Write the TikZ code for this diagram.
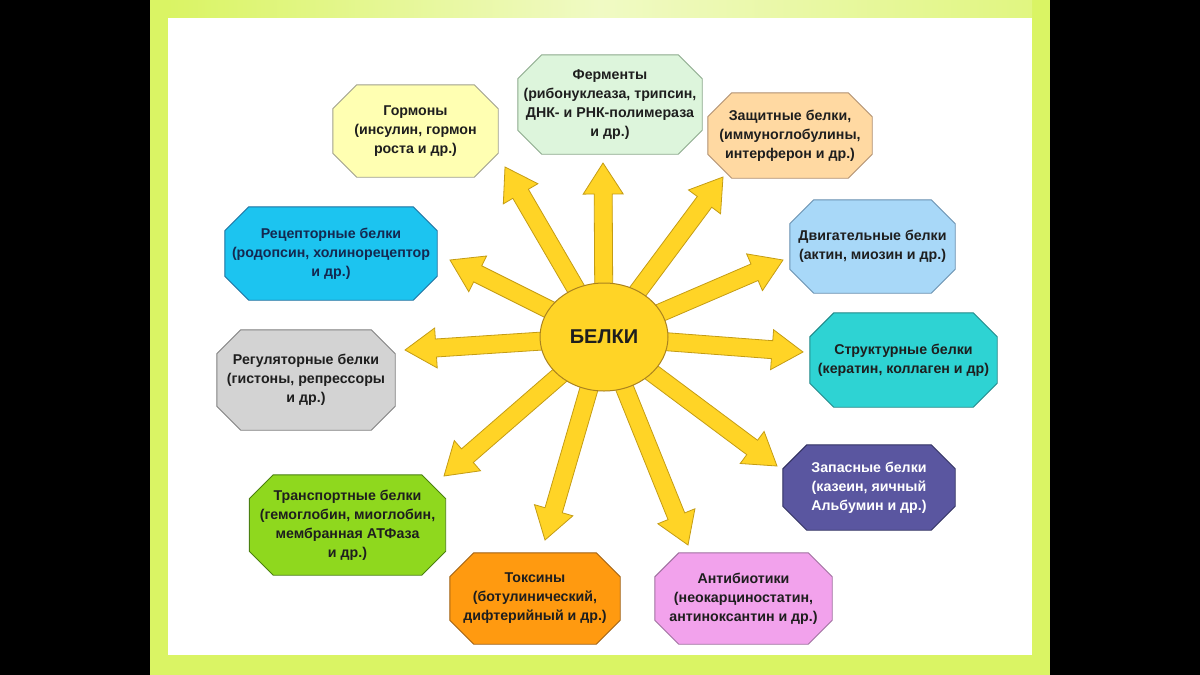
\documentclass[tikz,border=0pt]{standalone}
\usepackage{fontspec}
\setmainfont{Liberation Sans}
\usetikzlibrary{calc,shapes.geometric}
\pgfdeclarelayer{back}
\pgfdeclarelayer{bg}
\pgfsetlayers{back,bg,main}
\definecolor{rayfill}{RGB}{255,212,38}
\definecolor{rayline}{RGB}{196,156,20}
\definecolor{sunline}{RGB}{170,130,30}
\definecolor{lime}{RGB}{218,244,100}
\definecolor{palelime}{RGB}{240,250,196}
\definecolor{txtcol}{RGB}{30,30,30}
\definecolor{cHorm}{RGB}{255,255,178}\definecolor{dHorm}{RGB}{160,160,140}
\definecolor{cFerm}{RGB}{221,245,220}\definecolor{dFerm}{RGB}{140,170,140}
\definecolor{cZas}{RGB}{255,217,162}\definecolor{dZas}{RGB}{176,144,112}
\definecolor{cRec}{RGB}{28,196,240}\definecolor{dRec}{RGB}{26,112,160}
\definecolor{cDvi}{RGB}{168,216,248}\definecolor{dDvi}{RGB}{104,144,176}
\definecolor{cReg}{RGB}{211,211,211}\definecolor{dReg}{RGB}{128,128,128}
\definecolor{cStr}{RGB}{46,211,211}\definecolor{dStr}{RGB}{32,136,136}
\definecolor{cZap}{RGB}{90,86,160}\definecolor{dZap}{RGB}{48,48,96}
\definecolor{cTra}{RGB}{143,216,30}\definecolor{dTra}{RGB}{74,128,16}
\definecolor{cTox}{RGB}{255,154,16}\definecolor{dTox}{RGB}{160,96,16}
\definecolor{cAnt}{RGB}{242,162,236}\definecolor{dAnt}{RGB}{160,112,160}
\newcommand\octo[3]{%
  \filldraw[fill=#2, draw=#3, line width=0.9pt]
  ([xshift=24pt]#1.north west) -- ([xshift=-24pt]#1.north east) --
  ([yshift=-24pt]#1.north east) -- ([yshift=24pt]#1.south east) --
  ([xshift=-24pt]#1.south east) -- ([xshift=24pt]#1.south west) --
  ([yshift=24pt]#1.south west) -- ([yshift=-24pt]#1.north west) -- cycle;}
\newcommand\ray[2]{%
  \path ($(#2)!31pt!(#1)$) coordinate (hb);
  \filldraw[rayst] ($(#1)!9pt!90:(#2)$) -- ($(hb)!9pt!90:(#2)$) --
  ($(hb)!20pt!90:(#2)$) -- (#2) -- ($(hb)!20pt!-90:(#2)$) --
  ($(hb)!9pt!-90:(#2)$) -- ($(#1)!9pt!-90:(#2)$) -- cycle;}
\begin{document}
\begin{tikzpicture}[x=1pt,y=-1pt,
  txt/.style={align=center, font=\bfseries\fontsize{14.2}{19}\selectfont, text=txtcol, inner sep=0pt},
  rayst/.style={fill=rayfill, draw=rayline, line width=0.8pt, line join=miter},
  sun/.style={ellipse, fill=rayfill, draw=sunline, line width=1pt, minimum width=128pt, minimum height=108pt, inner sep=0pt, font=\bfseries\fontsize{20}{24}\selectfont, text=txtcol}]
\useasboundingbox (0,0) rectangle (1200,675);
\begin{pgfonlayer}{back}
  \fill[black] (0,0) rectangle (1200,675);
  \fill[lime] (150,0) rectangle (1050,675);
  \shade[left color=lime, right color=palelime] (168,0) rectangle (600,18);
  \shade[left color=palelime, right color=lime!70!palelime] (600,0) rectangle (1032,18);
  \fill[white] (168,18) rectangle (1032,655);
\end{pgfonlayer}

% boxes
\node[txt, minimum width=165pt, minimum height=92pt] (horm) at (415.5,131) {Гормоны\\(инсулин, гормон\\роста и др.)};
\node[txt, minimum width=184pt, minimum height=99pt] (ferm) at (610,104.5) {Ферменты\\(рибонуклеаза, трипсин,\\ДНК- и РНК-полимераза\\и др.)};
\node[txt, minimum width=164pt, minimum height=85pt] (zas) at (790,135.5) {Защитные белки,\\(иммуноглобулины,\\интерферон и др.)};
\node[txt, text={rgb,255:red,20;green,40;blue,80}, minimum width=212pt, minimum height=93pt] (rec) at (331,253.5) {Рецепторные белки\\(родопсин, холинорецептор\\и др.)};
\node[txt, minimum width=165pt, minimum height=93pt] (dvi) at (872.5,246.5) {Двигательные белки\\(актин, миозин и др.)};
\node[txt, minimum width=178pt, minimum height=100pt] (reg) at (306,380) {Регуляторные белки\\(гистоны, репрессоры\\и др.)};
\node[txt, minimum width=187pt, minimum height=94pt] (str) at (903.5,360) {Структурные белки\\(кератин, коллаген и др)};
\node[txt, text=white, minimum width=172pt, minimum height=85pt] (zap) at (869,487.5) {Запасные белки\\(казеин, яичный\\Альбумин и др.)};
\node[txt, minimum width=196pt, minimum height=100pt] (tra) at (347.5,525) {Транспортные белки\\(гемоглобин, миоглобин,\\мембранная АТФаза\\и др.)};
\node[txt, minimum width=170pt, minimum height=91pt] (tox) at (535,598.5) {Токсины\\(ботулинический,\\дифтерийный и др.)};
\node[txt, minimum width=177pt, minimum height=91pt] (ant) at (743.5,598.5) {Антибиотики\\(неокарциностатин,\\антиноксантин и др.)};
\begin{pgfonlayer}{bg}
  \octo{horm}{cHorm}{dHorm}
  \octo{ferm}{cFerm}{dFerm}
  \octo{zas}{cZas}{dZas}
  \octo{rec}{cRec}{dRec}
  \octo{dvi}{cDvi}{dDvi}
  \octo{reg}{cReg}{dReg}
  \octo{str}{cStr}{dStr}
  \octo{zap}{cZap}{dZap}
  \octo{tra}{cTra}{dTra}
  \octo{tox}{cTox}{dTox}
  \octo{ant}{cAnt}{dAnt}
\end{pgfonlayer}

% sun
\node[sun] (bel) at (604,337) {БЕЛКИ};
\coordinate (t1) at (603,163);
\coordinate (t2) at (505,167);
\coordinate (t3) at (723,177);
\coordinate (t4) at (450,260);
\coordinate (t5) at (783,260);
\coordinate (t6) at (405,350);
\coordinate (t7) at (803,352);
\coordinate (t8) at (444,476);
\coordinate (t9) at (777,466);
\coordinate (t10) at (545,540);
\coordinate (t11) at (688,545);
\begin{pgfonlayer}{bg}
  \foreach \t in {t1,t2,t3,t4,t5,t6,t7,t8,t9,t10,t11} {\ray{bel.center}{\t}}
\end{pgfonlayer}
\end{tikzpicture}
\end{document}
